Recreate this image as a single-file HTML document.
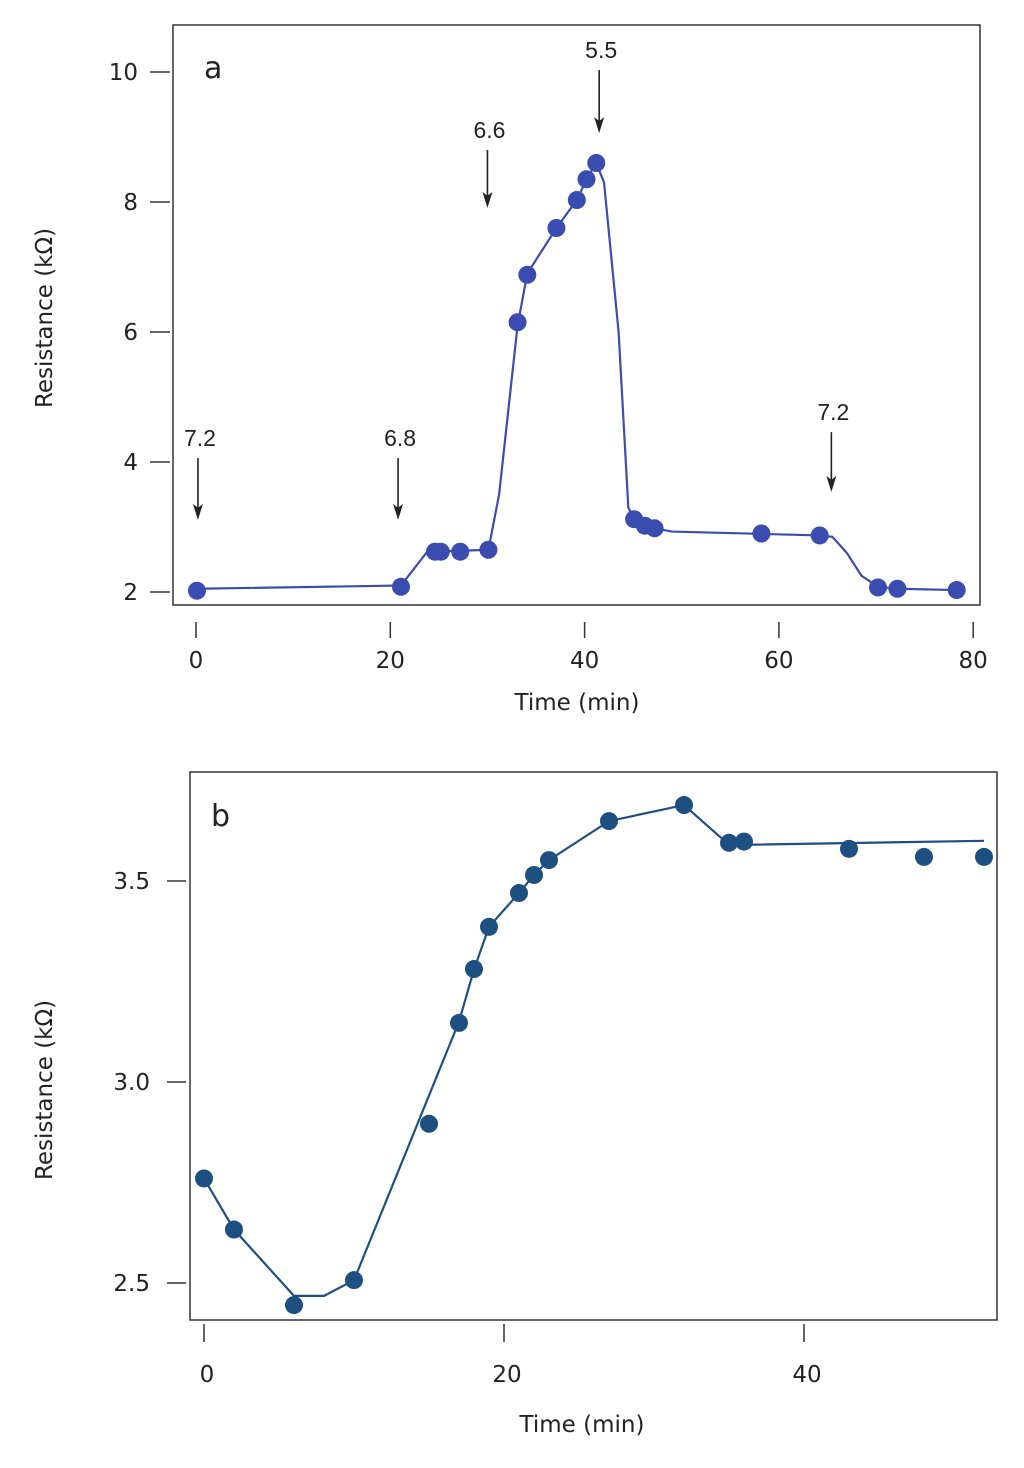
<!DOCTYPE html>
<html><head><meta charset="utf-8"><style>
body{margin:0;background:#fff}
svg{display:block;font-family:"DejaVu Sans","Liberation Sans",sans-serif}
</style></head><body>
<svg id="s" width="1024" height="1468" viewBox="0 0 1024 1468">
<g id="ga"></g>
<g id="gb"></g>
</svg>
<script>
// Chart a data
const aTimes=[0.1,21.1,24.6,25.2,27.2,30.1,33.1,34.1,37.1,39.2,40.2,41.2,45.1,46.2,47.2,58.2,64.2,70.2,72.2,78.3];
const aRes=[2.02,2.08,2.62,2.62,2.62,2.65,6.15,6.88,7.6,8.03,8.35,8.6,3.12,3.02,2.98,2.9,2.87,2.07,2.05,2.03];
const aLineT=[0.1,21.1,23.8,24.6,30.1,31.2,33.1,34.1,37.1,39.2,40.2,41.2,42,43.5,44.5,45.1,47.2,49,64.2,65.5,67,68.5,70.2,72.2,78.3];
const aLineR=[2.05,2.1,2.62,2.62,2.65,3.5,6.1,6.9,7.6,8.03,8.35,8.6,8.3,6,3.3,3.12,2.98,2.93,2.87,2.85,2.6,2.25,2.08,2.05,2.03];
const aXTicks=[0,20,40,60,80];
const aYTicks=[2,4,6,8,10];
const aArrowT=[0.2,20.8,30.0,41.5,65.4];
const aArrowTip=[3.11,3.11,7.91,9.06,3.54];
const aArrowTop=[4.06,4.06,8.8,10.03,4.46];
const aArrowLbl=["7.2","6.8","6.6","5.5","7.2"];
// Chart b data
const bTimes=[0,2,6,10,15,17,18,19,21,22,23,27,32,35,36,43,48,52];
const bRes=[2.76,2.633,2.445,2.507,2.896,3.147,3.281,3.386,3.47,3.515,3.552,3.649,3.689,3.595,3.598,3.58,3.56,3.56];
const bLineT=[0,2,6,8,10,17,18,19,21,22,23,27,32,35,36,52];
const bLineR=[2.76,2.633,2.468,2.468,2.507,3.15,3.28,3.386,3.47,3.515,3.552,3.649,3.689,3.59,3.59,3.6];
const bXTicks=[0,20,40];
const bYTicks=[2.5,3.0,3.5];
const bYLbl=["2.5","3.0","3.5"];

const NS="http://www.w3.org/2000/svg";
function mk(p,tag,at,txt){const e=document.createElementNS(NS,tag);for(const k in at)e.setAttribute(k,at[k]);if(txt!==undefined)e.textContent=txt;p.appendChild(e);return e;}

// ---- chart a
(function(){
const g=document.getElementById('ga');
const x=t=>196+9.715*t, y=r=>592-65*(r-2);
const f=mk(g,'rect',{x:173,y:25,width:807,height:580,fill:'none',stroke:'#333','stroke-width':1.5});

aYTicks.forEach(v=>{const l=mk(g,'line',{x1:150,x2:170,y1:y(v),y2:y(v),stroke:'#333','stroke-width':1.5});

const t=mk(g,'text',{x:138,y:y(v)+8,'text-anchor':'end','font-size':23,fill:'#222'},String(v));
});
aXTicks.forEach(v=>{const l=mk(g,'line',{x1:x(v),x2:x(v),y1:622,y2:638,stroke:'#333','stroke-width':1.5});

const t=mk(g,'text',{x:x(v),y:668,'text-anchor':'middle','font-size':23,fill:'#222'},String(v));
});
const xt=mk(g,'text',{x:577,y:710,'text-anchor':'middle','font-size':23,fill:'#222'},'Time (min)');

const yt=mk(g,'text',{x:0,y:0,transform:'translate(52,318) rotate(-90)','text-anchor':'middle','font-size':23,fill:'#222'},'Resistance (kΩ)');

const pl=mk(g,'text',{x:204,y:78,'font-size':30,fill:'#222'},'a');

const ln=mk(g,'polyline',{points:aLineT.map((t,i)=>x(t)+','+y(aLineR[i])).join(' '),fill:'none',stroke:'#3b4cb0','stroke-width':2.2});

aTimes.forEach((t,i)=>{const c=mk(g,'circle',{cx:x(t),cy:y(aRes[i]),r:9,fill:'#3b4cb0'});
});
aArrowT.forEach((t,i)=>{const top=y(aArrowTop[i]),tip=y(aArrowTip[i]),ax=x(t);
const a=mk(g,'line',{x1:ax,x2:ax,y1:top,y2:tip-10,stroke:'#222','stroke-width':1.6});

const h=mk(g,'path',{d:`M${ax-5},${tip-16} L${ax},${tip} L${ax+5},${tip-16} L${ax},${tip-12} Z`,fill:'#222'});

const tx=mk(g,'text',{x:ax+2,y:top-12,'text-anchor':'middle','font-size':23,fill:'#222','font-family':'Liberation Sans, sans-serif'},aArrowLbl[i]);
});
})();

// ---- chart b
(function(){
const g=document.getElementById('gb');
const x=t=>204+15.0*t, y=r=>1082-402*(r-3);
const f=mk(g,'rect',{x:190,y:772,width:807,height:548,fill:'none',stroke:'#333','stroke-width':1.5});

bYTicks.forEach((v,i)=>{const l=mk(g,'line',{x1:167,x2:186,y1:y(v),y2:y(v),stroke:'#333','stroke-width':1.5});

const t=mk(g,'text',{x:150,y:y(v)+8,'text-anchor':'end','font-size':23,fill:'#222'},bYLbl[i]);
});
bXTicks.forEach(v=>{const l=mk(g,'line',{x1:x(v),x2:x(v),y1:1324,y2:1342,stroke:'#333','stroke-width':1.5});

const t=mk(g,'text',{x:x(v)+3,y:1382,'text-anchor':'middle','font-size':23,fill:'#222'},String(v));
});
const xt=mk(g,'text',{x:582,y:1432,'text-anchor':'middle','font-size':23,fill:'#222'},'Time (min)');

const yt=mk(g,'text',{x:0,y:0,transform:'translate(52,1090) rotate(-90)','text-anchor':'middle','font-size':23,fill:'#222'},'Resistance (kΩ)');

const pl=mk(g,'text',{x:211,y:826,'font-size':30,fill:'#222'},'b');

const ln=mk(g,'polyline',{points:bLineT.map((t,i)=>x(t)+','+y(bLineR[i])).join(' '),fill:'none',stroke:'#1d5080','stroke-width':2.2});

bTimes.forEach((t,i)=>{const c=mk(g,'circle',{cx:x(t),cy:y(bRes[i]),r:9,fill:'#1d5080'});
});
})();
</script>
</body></html>
